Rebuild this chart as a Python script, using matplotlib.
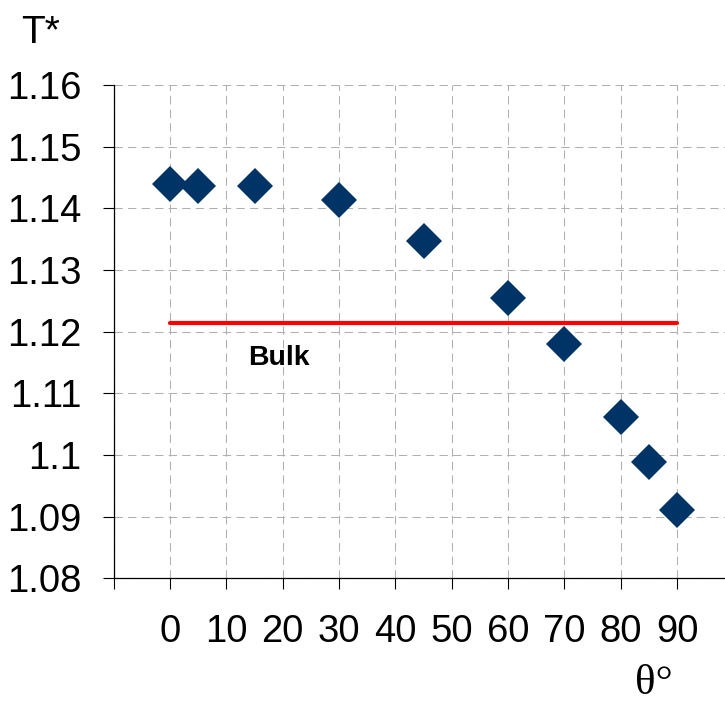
import matplotlib
matplotlib.use('Agg')
import matplotlib.pyplot as plt

# data
theta = [0, 5, 15, 30, 45, 60, 70, 80, 85, 90]
t_star = [1.1440, 1.1436, 1.1436, 1.1413, 1.1347, 1.1255, 1.1180, 1.1061, 1.0988, 1.0911]
bulk_x = [0, 90]
bulk_t = [1.1214, 1.1214]
x_ticks = [-10, 0, 10, 20, 30, 40, 50, 60, 70, 80, 90]
x_labels = ['', '0', '10', '20', '30', '40', '50', '60', '70', '80', '90']
y_ticks = [1.08, 1.09, 1.10, 1.11, 1.12, 1.13, 1.14, 1.15, 1.16]
y_labels = ['1.08', '1.09', '1.1', '1.11', '1.12', '1.13', '1.14', '1.15', '1.16']

plt.rcParams['font.family'] = ['Liberation Sans', 'DejaVu Sans']

fig = plt.figure(figsize=(7.25, 7.02), dpi=100)
ax = fig.add_axes([0.1568, 0.1762, 0.8432, 0.7027])

grid_style = dict(color='#b0b0b0', lw=0.75, ls=(0, (8, 5)))
ax.grid(True, **grid_style)
ax.set_axisbelow(True)

ax.plot(bulk_x, bulk_t, color='#ff0000', lw=3, solid_capstyle='round', zorder=2)
ax.plot(theta, t_star, ls='none', marker='D', ms=18.5, color='#003366',
        markeredgewidth=0, zorder=3)

ax.text(19.3, 1.1157, 'Bulk', fontsize=20.5, fontweight='bold', ha='center', va='center')

ax.set_xlim(-10, 98.5)
ax.set_ylim(1.08, 1.16)
ax.set_xticks(x_ticks)
ax.set_xticklabels(x_labels)
ax.set_yticks(y_ticks)
ax.set_yticklabels(y_labels)
ax.tick_params(axis='both', direction='out', length=8, width=0.8, labelsize=27.5)
ax.tick_params(axis='x', pad=18)
ax.tick_params(axis='y', pad=15)

for side in ['top', 'right']:
    ax.spines[side].set_visible(False)
for side in ['left', 'bottom']:
    ax.spines[side].set_linewidth(0.9)

fig.text(41 / 725, 1 - 42.7 / 702, 'T*', fontsize=28, ha='center', va='baseline')
fig.text(654 / 725, 1 - 694 / 702, 'θ°', fontsize=31, ha='center', va='baseline',
         family=['Liberation Serif', 'DejaVu Serif'])

fig.savefig('out.png', dpi=100)
